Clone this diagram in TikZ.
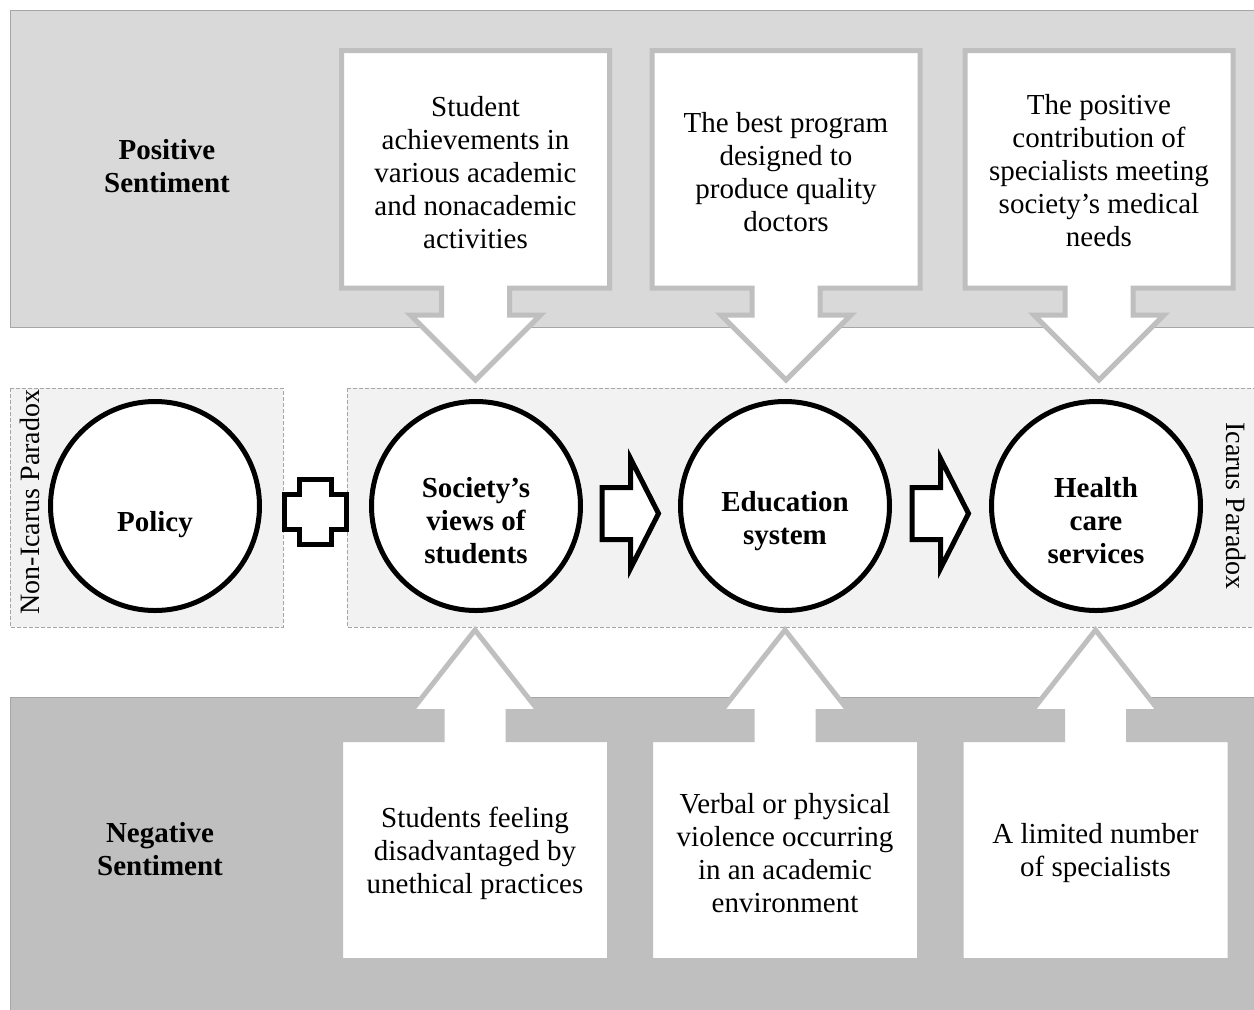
\documentclass[tikz,border=0pt]{standalone}
\usepackage{fontspec}
\setmainfont{Liberation Serif}
\usepackage{tikz}
\usetikzlibrary{positioning,calc}

\definecolor{bandtop}{HTML}{D9D9D9}
\definecolor{bandbot}{HTML}{BFBFBF}
\definecolor{panel}{HTML}{F2F2F2}
\definecolor{rim}{HTML}{A6A6A6}

\begin{document}
\begin{tikzpicture}[
    x=0.5pt, y=-0.5pt,
    every node/.style={font=\fontsize{14.5}{16.5}\selectfont, align=center},
    band/.style={draw=rim, line width=0.5pt},
    paradox/.style={draw=rim, fill=panel, line width=0.5pt, dash pattern=on 2pt off 1pt},
    callout/.style={draw=bandbot, fill=white, line width=2.5pt, line join=miter},
    stage/.style={circle, draw, fill=white, line width=2.5pt, minimum size=104.5pt, inner sep=0pt},
    stagetext/.style={font=\fontsize{14.5}{16.5}\selectfont\bfseries, yshift=-7.5pt},
    block/.style={draw, fill=white, line width=2.5pt, line join=miter},
    sentiment/.style={font=\fontsize{14.5}{16.5}\selectfont\bfseries},
    side/.style={font=\fontsize{14}{16}\selectfont}
]
\clip (0,0) rectangle (1254,1009);
\fill[white] (0,0) rectangle (1254,1009);

% Sentiment bands
\draw[band, fill=bandtop] (10,10) rectangle (1270,327);
\draw[band, fill=bandbot] (10,697) rectangle (1270,1020);
\node[sentiment] (positive) at (167,166) {Positive\\Sentiment};
\node[sentiment] (negative) at (160,849) {Negative\\Sentiment};

% Paradox panels
\draw[paradox] (10,388) rectangle (283,627);
\draw[paradox] (347,388) rectangle (1262,627);
\node[side, rotate=90] (nonicarus) at (30,502) {Non-Icarus Paradox};
\node[side, rotate=-90] (icarus) at (1236,506) {Icarus Paradox};

% Callouts from above
\foreach \cx in {475.5,786,1099}
  \draw[callout] (\cx-134,50.5) -- (\cx+134,50.5) -- (\cx+134,288) -- (\cx+34,288)
    -- (\cx+34,315) -- (\cx+65,315) -- (\cx,380) -- (\cx-65,315) -- (\cx-34,315)
    -- (\cx-34,288) -- (\cx-134,288) -- cycle;

% Callouts from below
\foreach \cx in {475,785,1095.5}
  \draw[callout] (\cx-134.5,960.5) -- (\cx+134.5,960.5) -- (\cx+134.5,739.5) -- (\cx+33,739.5)
    -- (\cx+33,711.5) -- (\cx+64,711.5) -- (\cx,630) -- (\cx-64,711.5) -- (\cx-33,711.5)
    -- (\cx-33,739.5) -- (\cx-134.5,739.5) -- cycle;

\node (pos-students) at (475.5,173) {Student\\achievements in\\various academic\\and nonacademic\\activities};
\node (pos-education) at (786,172) {The best program\\designed to\\produce quality\\doctors};
\node (pos-health) at (1099,171) {The positive\\contribution of\\specialists meeting\\society’s medical\\needs};
\node (neg-students) at (475,853) {Students feeling\\disadvantaged by\\unethical practices};
\node (neg-education) at (785,853) {Verbal or physical\\violence occurring\\in an academic\\environment};
\node (neg-health) at (1095.5,853) {A limited number\\of specialists};

% Stages
\node[stage, label={[stagetext, yshift=-2pt]center:Policy}] (policy) at (155,506) {};
\node[stage, label={[stagetext]center:Society’s\\views of\\students}] (students) at (476,506) {};
\node[stage, label={[stagetext]center:Education\\system}] (education) at (785,506) {};
\node[stage, label={[stagetext]center:Health\\care\\services}] (health) at (1096,506) {};

% Plus and flow arrows
\coordinate (plus) at (315,511.5);
\coordinate (flow1) at ($(students.east)!0.5!(education.west)+(0,7.5)$);
\coordinate (flow2) at ($(education.east)!0.5!(health.west)+(0,7.5)$);

\draw[block] (plus) ++(-16,-32.5) -- ++(32,0) -- ++(0,15) -- ++(15,0) -- ++(0,35)
  -- ++(-15,0) -- ++(0,15) -- ++(-32,0) -- ++(0,-15) -- ++(-15,0) -- ++(0,-35)
  -- ++(15,0) -- cycle;
\foreach \f in {flow1,flow2}
  \draw[block] (\f) ++(-28.5,-26) -- ++(28.5,0) -- ++(0,-29) -- ++(28,55)
    -- ++(-28,55) -- ++(0,-29) -- ++(-28.5,0) -- cycle;
\end{tikzpicture}
\end{document}
